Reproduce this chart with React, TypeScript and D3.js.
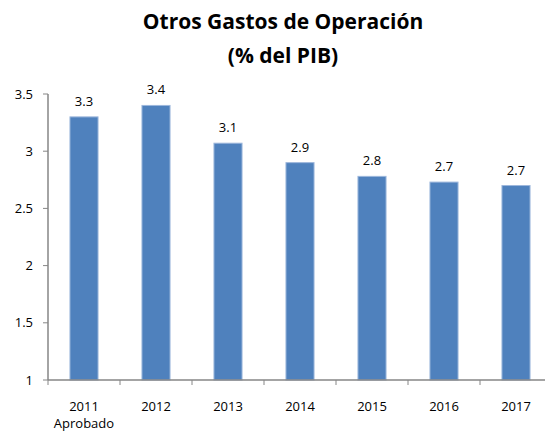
import React, { useEffect, useRef } from 'react';
import * as d3 from 'd3';

// chart data
const years = ['2011', '2012', '2013', '2014', '2015', '2016', '2017'];
const subLabels = ['Aprobado', '', '', '', '', '', ''];
const values = [3.3, 3.4, 3.07, 2.9, 2.78, 2.73, 2.7];
const yTicks = [1, 1.5, 2, 2.5, 3, 3.5];
const titleLines = ['Otros Gastos de Operación', '(% del PIB)'];

const W = 545;
const H = 435;

export default function App() {
  const ref = useRef<SVGSVGElement>(null);

  useEffect(() => {
    const svg = d3.select(ref.current);
    svg.selectAll('*').remove();

    const font = '"Open Sans", "Noto Sans", sans-serif';
    const axisColor = '#868686';

    // scales
    const x = d3.scaleBand<string>().domain(years).range([48, 552]).padding(0);
    const y = d3.scaleLinear().domain([1, 3.5]).range([380, 94]);
    const barW = x.step() * 0.39;

    // title
    svg.append('g')
      .selectAll('text')
      .data(titleLines)
      .enter()
      .append('text')
      .attr('x', 283)
      .attr('y', (d, i) => 29 + i * 34)
      .attr('text-anchor', 'middle')
      .attr('font-family', font)
      .attr('font-weight', 'bold')
      .attr('font-size', 21)
      .attr('fill', '#000')
      .text(d => d);

    // bars
    svg.append('g')
      .selectAll('rect')
      .data(values)
      .enter()
      .append('rect')
      .attr('x', (d, i) => x(years[i])! + x.step() / 2 - barW / 2)
      .attr('y', d => y(d))
      .attr('width', barW)
      .attr('height', d => y(1) - y(d))
      .attr('fill', '#4F81BD')
      .attr('stroke', '#9DB7DC')
      .attr('stroke-width', 1);

    // value labels
    svg.append('g')
      .selectAll('text')
      .data(values)
      .enter()
      .append('text')
      .attr('x', (d, i) => x(years[i])! + x.step() / 2)
      .attr('y', d => y(d) - 11)
      .attr('text-anchor', 'middle')
      .attr('font-family', font)
      .attr('font-size', 13)
      .attr('fill', '#000')
      .text(d => d3.format('.1f')(d));

    // y axis
    const yAxis = svg.append('g');
    yAxis.append('line')
      .attr('x1', 48).attr('x2', 48)
      .attr('y1', y(3.5)).attr('y2', y(1))
      .attr('stroke', axisColor).attr('stroke-width', 1.5);
    const yt = yAxis.selectAll('g.tick')
      .data(yTicks)
      .enter()
      .append('g')
      .attr('class', 'tick')
      .attr('transform', d => 'translate(0,' + y(d) + ')');
    yt.append('line')
      .attr('x1', 43).attr('x2', 48)
      .attr('stroke', axisColor).attr('stroke-width', 1);
    yt.append('text')
      .attr('x', 33)
      .attr('dy', '0.36em')
      .attr('text-anchor', 'end')
      .attr('font-family', font)
      .attr('font-size', 13)
      .attr('fill', '#000')
      .text(d => String(d));

    // x axis
    const xAxis = svg.append('g');
    xAxis.append('line')
      .attr('x1', 48).attr('x2', W)
      .attr('y1', y(1)).attr('y2', y(1))
      .attr('stroke', axisColor).attr('stroke-width', 1.5);
    xAxis.selectAll('line.tick')
      .data(years)
      .enter()
      .append('line')
      .attr('class', 'tick')
      .attr('x1', d => x(d)!).attr('x2', d => x(d)!)
      .attr('y1', y(1)).attr('y2', y(1) + 5)
      .attr('stroke', axisColor).attr('stroke-width', 1);
    xAxis.selectAll('text.year')
      .data(years)
      .enter()
      .append('text')
      .attr('class', 'year')
      .attr('x', d => x(d)! + x.step() / 2)
      .attr('y', 411)
      .attr('text-anchor', 'middle')
      .attr('font-family', font)
      .attr('font-size', 13)
      .attr('fill', '#000')
      .text(d => d);
    xAxis.selectAll('text.sub')
      .data(subLabels)
      .enter()
      .append('text')
      .attr('class', 'sub')
      .attr('x', (d, i) => x(years[i])! + x.step() / 2)
      .attr('y', 428)
      .attr('text-anchor', 'middle')
      .attr('font-family', font)
      .attr('font-size', 13)
      .attr('fill', '#000')
      .text(d => d);
  }, []);

  return (
    <svg ref={ref} width={W} height={H}
         style={{ position: 'absolute', left: 0, top: 0, background: '#fff' }} />
  );
}
